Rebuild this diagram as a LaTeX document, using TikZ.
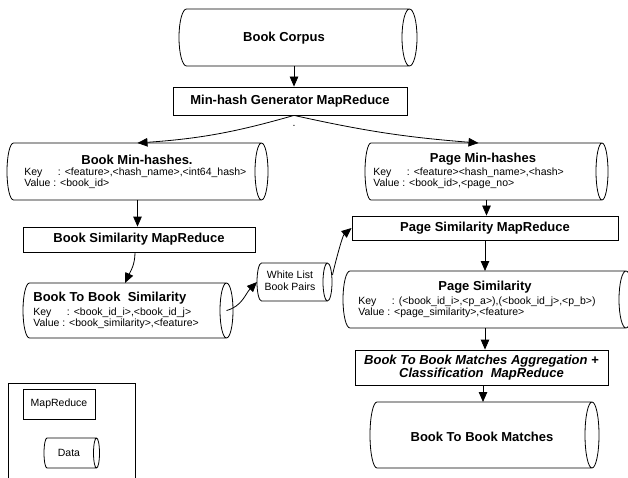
\documentclass[tikz,border=0pt]{standalone}
\usepackage{fontspec}
\setmainfont{Liberation Sans}
\usetikzlibrary{arrows.meta,calc}
\newcommand\drawcylinder[2]{%
  \draw let \p1=(#1.north west), \p2=(#1.south east), \n1={(\y1-\y2)/2} in
    (\x1,\y1) -- (\x2,\y1) arc[start angle=90, end angle=-90, x radius=#2pt, y radius=\n1]
    -- (\x1,\y2) arc[start angle=270, end angle=90, x radius=#2pt, y radius=\n1] -- cycle
    (\x2,\y1) arc[start angle=90, end angle=270, x radius=#2pt, y radius=\n1];
}
\newcommand\cylat[6]{%
  \node[cylbody, minimum width={#3-#2}, minimum height={#5-#4}] (#1) at ({(#2+#3)/2},{-(#4+#5)/2}) {};
  \drawcylinder{#1}{#6}%
}
\begin{document}
\begin{tikzpicture}[x=1pt,y=1pt,
  line width=0.8pt,
  box/.style={draw, rectangle, inner sep=0, align=center, font=\fontsize{13}{15}\selectfont\bfseries},
  cylbody/.style={rectangle, inner sep=0, outer sep=0},
  title/.style={font=\fontsize{13}{15}\selectfont\bfseries, inner sep=0},
  kv/.style={font=\fontsize{10.5}{11}\selectfont, anchor=west, inner sep=0},
  plain/.style={font=\fontsize{10.5}{12}\selectfont, inner sep=0, align=center},
  arr/.style={-{Triangle[length=10pt,width=8.5pt]}, line width=0.8pt},
]
\useasboundingbox (0,0) rectangle (628,-478);
\fill[white] (0,0) rectangle (628,-478);

% cylinders
\cylat{corpus}{186.5}{409.5}{9}{66}{7.5}
\cylat{bmh}{13.5}{261.5}{143}{200}{6.5}
\cylat{pmh}{371}{602}{143}{200}{6}
\cylat{bbs}{29.5}{226.5}{283}{338}{6.5}
\cylat{wl}{261.5}{327.5}{263}{301}{4.5}
\cylat{psim}{350}{626}{271}{328}{7}
\cylat{btbm}{377}{592}{402}{468}{7}
\cylat{data}{47}{96.5}{438}{468}{3}

% texts in cylinders
\node[title] (corpust) at (284,-38) {Book Corpus};
\node[title] (bmht) at (137,-160) {Book Min-hashes.};
\node[kv] (bmhk) at (24,-173) {\makebox[3.2em][l]{Key}: <feature>,<hash\_name>,<int64\_hash>};
\node[kv] (bmhv) at (24,-184) {Value : <book\_id>};
\node[title] (pmht) at (483,-159) {Page Min-hashes};
\node[kv] (pmhk) at (373,-173) {\makebox[3.2em][l]{Key}: <feature><hash\_name>,<hash>};
\node[kv] (pmhv) at (373,-184) {Value : <book\_id>,<page\_no>};
\node[title, anchor=west] (bbst) at (33,-298) {Book To Book~ Similarity};
\node[kv] (bbsk) at (33,-313) {\makebox[3.2em][l]{Key}: <book\_id\_i>,<book\_id\_j>};
\node[kv] (bbsv) at (33,-324) {Value : <book\_similarity>,<feature>};
\node[plain] (wlt) at (290,-281) {White List\\Book Pairs};
\node[title] (psimt) at (485,-287) {Page Similarity};
\node[kv] (psimk) at (358,-302) {\makebox[3.2em][l]{Key}: (<book\_id\_i>,<p\_a>),(<book\_id\_j>,<p\_b>)};
\node[kv] (psimv) at (358,-313) {Value : <page\_similarity>,<feature>};
\node[title] (btbmt) at (482,-437) {Book To Book Matches};
\node[plain] (datat) at (69,-453) {Data};

% MapReduce boxes
\node[box, minimum width=234, minimum height=28] (mh) at (290,-101) {Min-hash Generator MapReduce};
\node[box, minimum width=232, minimum height=25] (bsm) at (139,-239.5) {Book Similarity MapReduce};
\node[box, minimum width=266, minimum height=24] (psm) at (485,-228) {Page Similarity MapReduce};
\node[box, minimum width=253, minimum height=35, font=\fontsize{13}{13}\selectfont\bfseries\itshape] (agg) at (481.5,-367.5) {Book To Book Matches Aggregation +\\Classification~ MapReduce};
\node[draw, rectangle, inner sep=0, minimum width=72, minimum height=30, font=\fontsize{10.5}{12}\selectfont] (lmr) at (59,-404) {MapReduce};

\node[plain] (dot) at (294,-126) {.};

% legend frame
\draw (8,-478) -- (8,-383) -- (135,-383) -- (135,-478);

% connectors
\draw[arr] ([xshift=-4pt]corpus.south) -- ([xshift=4pt]mh.north);
\draw[arr] ([xshift=4pt]mh.south) to[bend left=6] (bmh.north);
\draw[arr] ([xshift=4pt]mh.south) to[bend right=4] ([xshift=-8pt]pmh.north);
\draw[arr] (bmh.south) -- (bmh.south |- bsm.north);
\draw[arr] ([xshift=-4pt]bsm.south) to[out=-90,in=65] ([xshift=-3pt]bbs.north);
\draw[arr] (bbs.east) to[out=15,in=225] ([xshift=-4.5pt]wl.west);
\draw[arr] ([xshift=5pt,yshift=7pt]wl.east) to[out=78,in=220,looseness=0.6] (psm.west);
\draw[arr] (pmh.south) -- (pmh.south |- psm.north);
\draw[arr] (psm.south) -- (psm.south |- psim.north);
\draw[arr] (psm.south |- psim.south) -- (psm.south |- agg.north);
\draw[arr] ([xshift=1.5pt]agg.south) -- ([xshift=1.5pt]agg.south |- btbm.north);
\end{tikzpicture}
\end{document}
